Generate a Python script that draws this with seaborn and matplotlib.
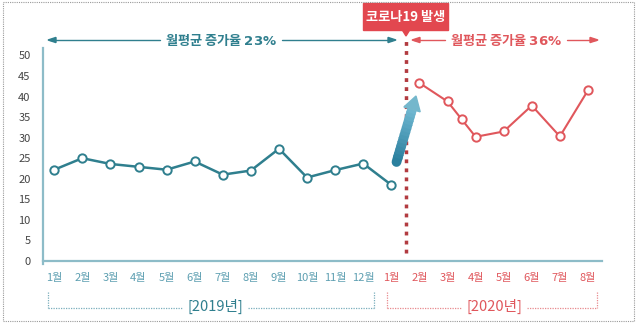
import matplotlib
matplotlib.use("Agg")
import matplotlib.pyplot as plt
import seaborn as sns
import pandas as pd
import numpy as np
from matplotlib.patches import Rectangle, Polygon

sns.set_style("white")
plt.rcParams['font.family'] = ['Noto Sans CJK KR', 'DejaVu Sans']

# ---- data ----
tick_labels = ["1월", "2월", "3월", "4월", "5월", "6월", "7월", "8월", "9월", "10월", "11월", "12월",
               "1월", "2월", "3월", "4월", "5월", "6월", "7월", "8월"]
pos_2019 = [0, 1, 2, 3, 4, 5, 6, 7, 8, 9, 10, 11, 12]
val_2019 = [22.2, 25.0, 23.6, 22.9, 22.2, 24.2, 21.0, 22.0, 27.3, 20.3, 22.1, 23.7, 18.5]
pos_2020 = [13, 14, 14.5, 15, 16, 17, 18, 19]
val_2020 = [43.3, 38.8, 34.5, 30.2, 31.5, 37.8, 30.3, 41.5]
yticks = [0, 5, 10, 15, 20, 25, 30, 35, 40, 45, 50]

TEAL = "#2f7f8e"
TEAL_LT = "#5d9fb1"
AXIS_C = "#8dbcc8"
RED = "#e0575c"
RED_DK = "#b23b40"
BOX_RED = "#e2474f"

df1 = pd.DataFrame({"x": pos_2019, "y": val_2019})
df2 = pd.DataFrame({"x": pos_2020, "y": val_2020})

fig = plt.figure(figsize=(6.37, 3.24), dpi=100)
ax = fig.add_axes([43/637, 1-261/324, (602-43)/637, (261-48)/324])

sns.lineplot(data=df1, x="x", y="y", ax=ax, color=TEAL, linewidth=1.8,
             marker="o", markersize=6, markerfacecolor="white",
             markeredgecolor=TEAL, markeredgewidth=1.4)
sns.lineplot(data=df2, x="x", y="y", ax=ax, color=RED, linewidth=1.5,
             marker="o", markersize=6, markerfacecolor="white",
             markeredgecolor=RED, markeredgewidth=1.4)

ax.set_xlim(-0.4, 19.5)
ax.set_ylim(0, 51.8)
ax.set_xlabel("")
ax.set_ylabel("")
for s in ["top", "right"]:
    ax.spines[s].set_visible(False)
for s in ["left", "bottom"]:
    ax.spines[s].set_color(AXIS_C)
    ax.spines[s].set_linewidth(1.6)
ax.spines["left"].set_bounds(-0.8, 51.8)
ax.spines["left"].set_clip_on(False)

ax.set_yticks(yticks)
ax.set_yticklabels([str(v) for v in yticks], fontsize=8, color="#444444")
ax.tick_params(axis="y", length=0, pad=9)
ax.set_xticks(range(len(tick_labels)))
ax.set_xticklabels(tick_labels, fontsize=8)
ax.tick_params(axis="x", length=0, pad=9)
for i, lbl in enumerate(ax.get_xticklabels()):
    lbl.set_color(TEAL_LT if i < 12 else RED)

# vertical dotted event line
xv = 12.53
ax.plot([xv, xv], [2.0, 54.3], color=RED_DK, linestyle=(0, (1.1, 1.5)),
        linewidth=2.5, clip_on=False)

# ---- figure-level annotations (pixel coords) ----
def fx(px):
    return px / 637
def fy(py):
    return 1 - py / 324

# big gradient arrow (pixel coords)
p0 = np.array([396.5, 162.0])
tip = np.array([416.0, 96.0])
d = tip - p0
L = np.hypot(*d)
u = d / L
perp = np.array([u[1] * -1, u[0]]) * -1
perp = np.array([-u[1], u[0]])
base = tip - 14 * u
n = 14
for k in range(n):
    t0 = k / n
    t1 = min((k + 1.25) / n, 1.0)
    c = np.array([0.17, 0.50, 0.62]) * (1 - t0) + np.array([0.45, 0.73, 0.83]) * t0
    a = p0 + (base - p0) * t0
    b = p0 + (base - p0) * t1
    fig.add_artist(plt.Line2D([fx(a[0]), fx(b[0])], [fy(a[1]), fy(b[1])], color=c,
                              lw=7, solid_capstyle="round" if k == 0 else "butt", zorder=5))
h1 = base + 8.5 * perp
h2 = base - 8.5 * perp
fig.patches.append(Polygon([[fx(tip[0]), fy(tip[1])], [fx(h1[0]), fy(h1[1])], [fx(h2[0]), fy(h2[1])]],
                           closed=True, color="#74b7cc", transform=fig.transFigure, zorder=6))

# teal top arrow + text
ya = fy(40)
fig.add_artist(plt.Line2D([fx(50), fx(160)], [ya, ya], color=TEAL, lw=1.0))
fig.add_artist(plt.Line2D([fx(282), fx(392)], [ya, ya], color=TEAL, lw=1.0))
fig.patches.append(Polygon([[fx(48), ya], [fx(56), ya + 0.008], [fx(56), ya - 0.008]],
                           closed=True, color=TEAL, transform=fig.transFigure))
fig.patches.append(Polygon([[fx(396), ya], [fx(388), ya + 0.008], [fx(388), ya - 0.008]],
                           closed=True, color=TEAL, transform=fig.transFigure))
fig.text(fx(221), ya, "월평균 증가율 $\\mathbf{23\\%}$", ha="center", va="center",
         fontsize=9.5, color=TEAL, fontweight="bold")

# red top arrow + text
fig.add_artist(plt.Line2D([fx(414), fx(445)], [ya, ya], color=RED, lw=1.0))
fig.add_artist(plt.Line2D([fx(567), fx(596)], [ya, ya], color=RED, lw=1.0))
fig.patches.append(Polygon([[fx(412), ya], [fx(420), ya + 0.008], [fx(420), ya - 0.008]],
                           closed=True, color=RED, transform=fig.transFigure))
fig.patches.append(Polygon([[fx(598), ya], [fx(590), ya + 0.008], [fx(590), ya - 0.008]],
                           closed=True, color=RED, transform=fig.transFigure))
fig.text(fx(506), ya, "월평균 증가율 $\\mathbf{36\\%}$", ha="center", va="center",
         fontsize=9.5, color=RED, fontweight="bold")

# red box label
fig.patches.append(Rectangle((fx(363), fy(30)), fx(448) - fx(363), fy(3) - fy(30),
                             color=BOX_RED, transform=fig.transFigure))
fig.patches.append(Polygon([[fx(402), fy(29.5)], [fx(410), fy(29.5)], [fx(406), fy(36)]],
                           closed=True, color=BOX_RED, transform=fig.transFigure))
fig.text(fx(405.5), fy(16.5), "코로나19 발생", ha="center", va="center",
         fontsize=9.5, color="white", fontweight="bold")

# year brackets
yb = fy(307.5)
ytop = fy(292)
br_c19 = "#7aaebc"
br_c20 = "#e88a8e"
def bracket(xl, xr, xt0, xt1, col):
    fig.add_artist(plt.Line2D([fx(xl), fx(xl)], [ytop, yb], color=col, lw=0.9, ls=(0, (1, 1))))
    fig.add_artist(plt.Line2D([fx(xr), fx(xr)], [ytop, yb], color=col, lw=0.9, ls=(0, (1, 1))))
    fig.add_artist(plt.Line2D([fx(xl), fx(xt0)], [yb, yb], color=col, lw=0.9, ls=(0, (1, 1))))
    fig.add_artist(plt.Line2D([fx(xt1), fx(xr)], [yb, yb], color=col, lw=0.9, ls=(0, (1, 1))))
bracket(48, 374, 182, 248, br_c19)
bracket(387, 597, 462, 527, br_c20)
fig.text(fx(215), fy(306), "[2019년]", ha="center", va="center", fontsize=10.5, color=TEAL)
fig.text(fx(494.5), fy(306), "[2020년]", ha="center", va="center", fontsize=10.5, color=RED)

# dotted frame
fig.patches.append(Rectangle((fx(2.5), fy(321)), fx(634) - fx(2.5), fy(1.5) - fy(321),
                             fill=False, edgecolor="#9a9a9a", lw=0.8, ls=(0, (1, 1)),
                             transform=fig.transFigure))

fig.savefig("out.png", dpi=100)
